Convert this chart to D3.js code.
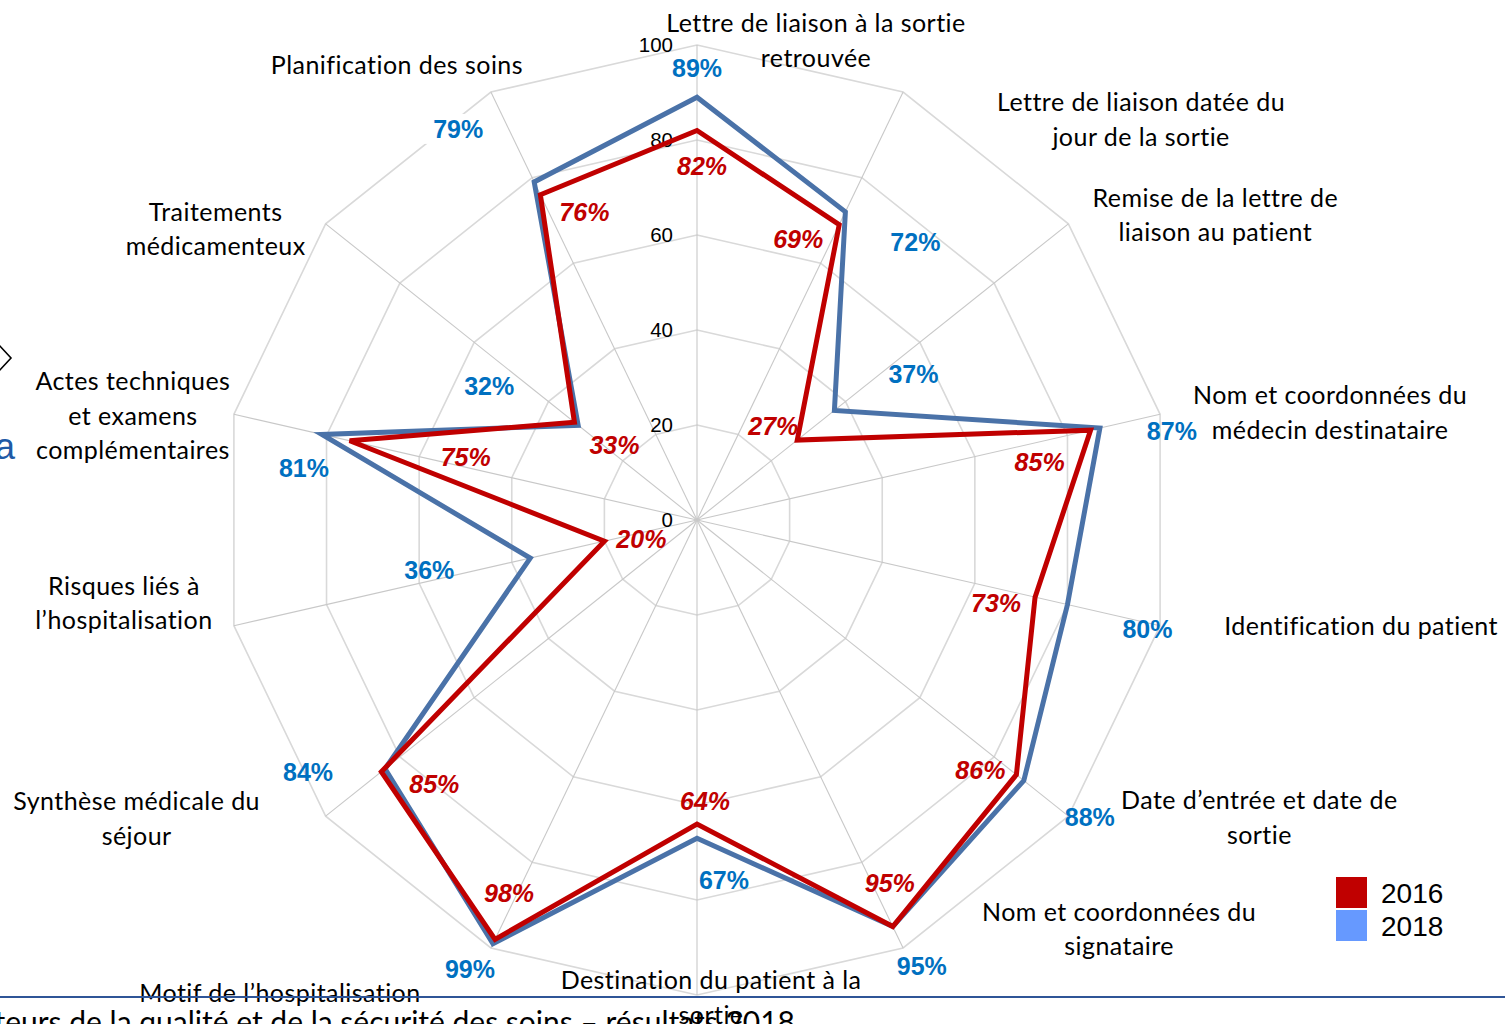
<!DOCTYPE html>
<html><head><meta charset="utf-8">
<script src="https://cdn.jsdelivr.net/npm/d3@7"></script>
<style>
html,body{margin:0;padding:0;background:#fff;overflow:hidden;}
svg{display:block;}
</style></head>
<body>
<svg id="chart" width="1505" height="1024"></svg>
<script>
// ---------- DATA ----------
const categories = [
  ["Lettre de liaison à la sortie", "retrouvée"],
  ["Lettre de liaison datée du", "jour de la sortie"],
  ["Remise de la lettre de", "liaison au patient"],
  ["Nom et coordonnées du", "médecin destinataire"],
  ["Identification du patient"],
  ["Date d’entrée et date de", "sortie"],
  ["Nom et coordonnées du", "signataire"],
  ["Destination du patient à la", "sortie"],
  ["Motif de l’hospitalisation"],
  ["Synthèse médicale du", "séjour"],
  ["Risques liés à", "l’hospitalisation"],
  ["Actes techniques", "et examens", "complémentaires"],
  ["Traitements", "médicamenteux"],
  ["Planification des soins"]
];
const values2016 = [82, 69, 27, 85, 73, 86, 95, 64, 98, 85, 20, 75, 33, 76];
const values2018 = [89, 72, 37, 87, 80, 88, 95, 67, 99, 84, 36, 81, 32, 79];
const seriesNames = ["2016", "2018"];
const tickValues = [0, 20, 40, 60, 80, 100];
const footerText = "Indicateurs de la qualité et de la sécurité des soins – résultats 2018";

// ---------- LAYOUT (label offsets, not data) ----------
const catLabelOffsets = [
  [119,-23],[238,9],[147,-27],[170,-20],[201,-1],[191,-17],[216,-37],
  [14,-16],[-211,44],[-189,-16],[-110,-41],[-101,-34],[-110,-13],[-94,-28]
];
const off2018 = [
  [0,-29],[70,30],[79,-36],[72,3],[80,24],[66,36],[29,39],
  [27,42],[-23,25],[-77,3],[-101,12],[-18,34],[-89,-39],[-76,-53]
];
const off2016 = [
  [5,35],[-41,14],[-24,-14],[-51,32],[-39,6],[-36,-5],[-3,-44],
  [8,-23],[14,-46],[53,12],[37,-2],[116,16],[40,23],[44,17]
];

// ---------- CHART ----------
const svg = d3.select("#chart");
const cx = 697, cy = 520, R = 475;
const n = categories.length;
const r = d3.scaleLinear().domain([0, 100]).range([0, R]);
const angle = d3.scaleLinear().domain([0, n]).range([0, 2 * Math.PI]);
const g = svg.append("g").attr("transform", `translate(${cx},${cy})`);
const pt = (i, v) => [r(v) * Math.sin(angle(i)), -r(v) * Math.cos(angle(i))];

const labelFont = "Lato, 'Open Sans', sans-serif";
const numFont = "'Liberation Sans', Arial, sans-serif";

// rings
const ringLine = d3.lineRadial().angle((d, i) => angle(i)).radius(d => r(d)).curve(d3.curveLinearClosed);
tickValues.filter(t => t > 0).forEach(t => {
  g.append("path").attr("d", ringLine(categories.map(() => t)))
    .attr("fill", "none").attr("stroke", "#D9D9D9").attr("stroke-width", 1.6);
});
// spokes
categories.forEach((c, i) => {
  const p = pt(i, 100);
  g.append("line").attr("x1", 0).attr("y1", 0).attr("x2", p[0]).attr("y2", p[1])
    .attr("stroke", "#C8C8C8").attr("stroke-width", 1.1);
});
// tick labels
tickValues.forEach(t => {
  g.append("text").attr("x", -24).attr("y", -r(t) - 1)
    .attr("text-anchor", "end").attr("dominant-baseline", "central")
    .attr("font-family", numFont).attr("font-size", 20.5).attr("fill", "#000")
    .text(t);
});

// series lines
const seriesLine = d3.lineRadial().angle((d, i) => angle(i)).radius(d => r(d)).curve(d3.curveLinearClosed);
g.append("path").attr("d", seriesLine(values2018)).attr("fill", "none")
  .attr("stroke", "#4A72A8").attr("stroke-width", 5).attr("stroke-linejoin", "miter");
g.append("path").attr("d", seriesLine(values2016)).attr("fill", "none")
  .attr("stroke", "#C00000").attr("stroke-width", 5).attr("stroke-linejoin", "miter");

// value labels 2018
values2018.forEach((v, i) => {
  const p = pt(i, v);
  const x = p[0] + off2018[i][0], y = p[1] + off2018[i][1];
  if (i === 13) {
    g.append("rect").attr("x", x - 36).attr("y", y - 15).attr("width", 72).attr("height", 30).attr("fill", "#fff");
  }
  g.append("text").attr("x", x).attr("y", y)
    .attr("text-anchor", "middle").attr("dominant-baseline", "central")
    .attr("font-family", numFont).attr("font-weight", "bold").attr("font-size", 25)
    .attr("fill", "#0070C0").text(v + "%");
});
// value labels 2016
values2016.forEach((v, i) => {
  const p = pt(i, v);
  g.append("text").attr("x", p[0] + off2016[i][0]).attr("y", p[1] + off2016[i][1])
    .attr("text-anchor", "middle").attr("dominant-baseline", "central")
    .attr("font-family", numFont).attr("font-weight", "bold").attr("font-style", "italic")
    .attr("font-size", 25).attr("fill", "#C00000").text(v + "%");
});

// decorations: bottom rule and footer
svg.append("line").attr("x1", 0).attr("x2", 1505).attr("y1", 997).attr("y2", 997)
  .attr("stroke", "#2F5597").attr("stroke-width", 2);
svg.append("text").attr("x", 795).attr("y", 1033).attr("text-anchor", "end")
  .attr("font-family", labelFont).attr("font-size", 30).attr("fill", "#000").text(footerText);
svg.append("polyline").attr("points", "-2,344 11,358 -2,372").attr("fill", "none")
  .attr("stroke", "#000").attr("stroke-width", 1.6);
svg.append("text").attr("x", -5).attr("y", 459).attr("font-family", numFont)
  .attr("font-size", 36).attr("fill", "#1F5AA6").text("a");

// category labels
const lineH = 34.5;
categories.forEach((lines, i) => {
  const p = pt(i, 100);
  const x = p[0] + catLabelOffsets[i][0], y0 = p[1] + catLabelOffsets[i][1];
  const t = g.append("text").attr("text-anchor", "middle")
    .attr("font-family", labelFont).attr("font-size", 25).attr("letter-spacing", 0.45)
    .attr("fill", "#000");
  lines.forEach((ln, k) => {
    t.append("tspan").attr("x", x).attr("y", y0 + k * lineH)
      .attr("dominant-baseline", "central").text(ln);
  });
});

// legend
const legend = svg.append("g").attr("transform", "translate(1336,877)");
const legendColors = ["#C00000", "#6699FF"];
seriesNames.forEach((s, i) => {
  legend.append("rect").attr("x", 0).attr("y", i * 33).attr("width", 31).attr("height", 31)
    .attr("fill", legendColors[i]);
  legend.append("text").attr("x", 45).attr("y", i * 33 + 16).attr("dominant-baseline", "central")
    .attr("font-family", numFont).attr("font-size", 28).attr("fill", "#000").text(s);
});
</script>
</body></html>
